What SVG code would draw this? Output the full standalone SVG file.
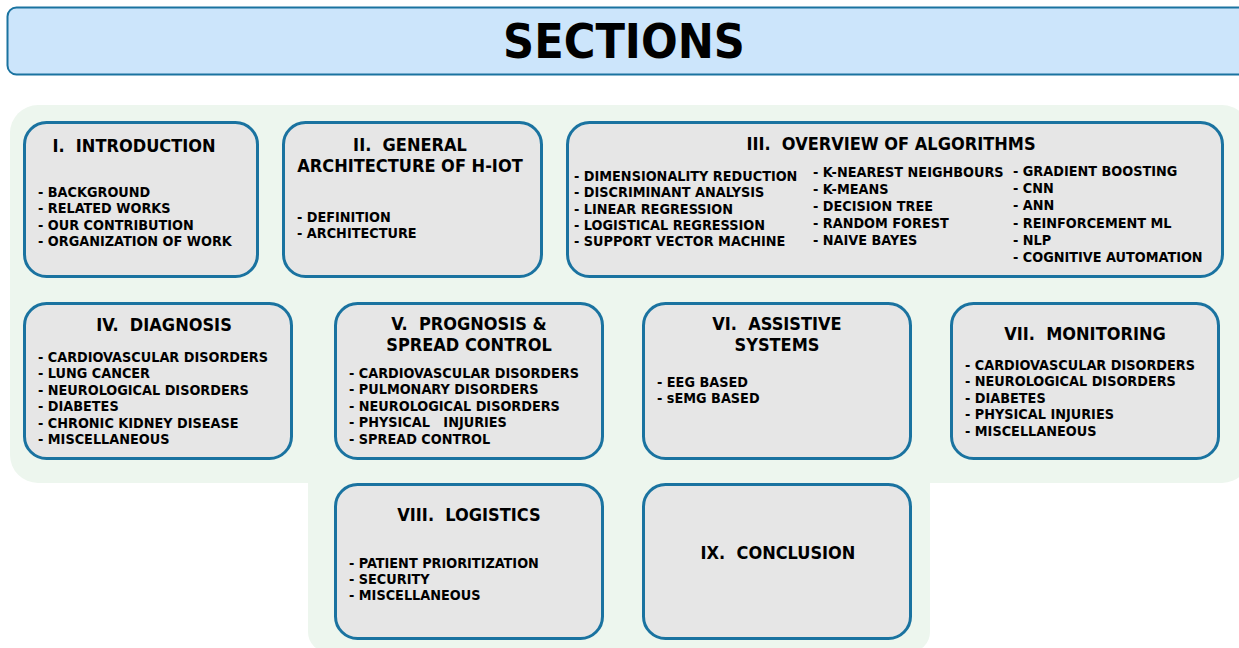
<svg xmlns="http://www.w3.org/2000/svg" width="1239" height="648" viewBox="0 0 1239 648">
<style>
.bg{fill:#edf6ee;stroke:none}
.box{fill:#e6e6e6;stroke:#1a73a0;stroke-width:3}
text{font-family:"DejaVu Sans Condensed","DejaVu Sans",sans-serif;font-weight:bold;fill:#000;white-space:pre}
.h{font-size:18px;text-anchor:middle}
.t{font-size:14.3px}
</style>
<rect x="0" y="0" width="1239" height="648" fill="#ffffff"/>
<g id="title">
<rect x="7.5" y="7.5" width="1245" height="67" rx="9" fill="#cce5fb" stroke="#1a73a0" stroke-width="2"/>
<text x="624" y="58" style="font-size:48px" text-anchor="middle">SECTIONS</text>
</g>
<g id="background">
<rect class="bg" x="10" y="105" width="1240" height="378" rx="28"/>
<rect class="bg" x="308" y="452" width="622" height="200" rx="20"/>
</g>
<g id="connectors"></g>
<g id="n1">
<rect class="box" x="24.5" y="122.5" width="233" height="154" rx="22"/>
<text class="h" x="134" y="152" xml:space="preserve">I.  INTRODUCTION</text>
<text class="t" x="38" y="197">- BACKGROUND</text>
<text class="t" x="38" y="213">- RELATED WORKS</text>
<text class="t" x="38" y="230">- OUR CONTRIBUTION</text>
<text class="t" x="38" y="246">- ORGANIZATION OF WORK</text>
</g>
<g id="n2">
<rect class="box" x="283.5" y="122.5" width="258" height="154" rx="22"/>
<text class="h" x="410" y="151" xml:space="preserve">II.  GENERAL</text>
<text class="h" x="410" y="172">ARCHITECTURE OF H-IOT</text>
<text class="t" x="297" y="222">- DEFINITION</text>
<text class="t" x="297" y="238">- ARCHITECTURE</text>
</g>
<g id="n3">
<rect class="box" x="567.5" y="122.5" width="655" height="154" rx="22"/>
<text class="h" x="891" y="150" xml:space="preserve">III.  OVERVIEW OF ALGORITHMS</text>
<text class="t" x="574" y="181">- DIMENSIONALITY REDUCTION</text>
<text class="t" x="574" y="197">- DISCRIMINANT ANALYSIS</text>
<text class="t" x="574" y="214">- LINEAR REGRESSION</text>
<text class="t" x="574" y="230">- LOGISTICAL REGRESSION</text>
<text class="t" x="574" y="246">- SUPPORT VECTOR MACHINE</text>
<text class="t" x="813" y="177">- K-NEAREST NEIGHBOURS</text>
<text class="t" x="813" y="194">- K-MEANS</text>
<text class="t" x="813" y="211">- DECISION TREE</text>
<text class="t" x="813" y="228">- RANDOM FOREST</text>
<text class="t" x="813" y="245">- NAIVE BAYES</text>
<text class="t" x="1013" y="176">- GRADIENT BOOSTING</text>
<text class="t" x="1013" y="193">- CNN</text>
<text class="t" x="1013" y="210">- ANN</text>
<text class="t" x="1013" y="228">- REINFORCEMENT ML</text>
<text class="t" x="1013" y="245">- NLP</text>
<text class="t" x="1013" y="262">- COGNITIVE AUTOMATION</text>
</g>
<g id="n4">
<rect class="box" x="24.5" y="303.5" width="267" height="155" rx="22"/>
<text class="h" x="164" y="331" xml:space="preserve">IV.  DIAGNOSIS</text>
<text class="t" x="38" y="362">- CARDIOVASCULAR DISORDERS</text>
<text class="t" x="38" y="378">- LUNG CANCER</text>
<text class="t" x="38" y="395">- NEUROLOGICAL DISORDERS</text>
<text class="t" x="38" y="411">- DIABETES</text>
<text class="t" x="38" y="428">- CHRONIC KIDNEY DISEASE</text>
<text class="t" x="38" y="444">- MISCELLANEOUS</text>
</g>
<g id="n5">
<rect class="box" x="335.5" y="303.5" width="267" height="155" rx="22"/>
<text class="h" x="469" y="330" xml:space="preserve">V.  PROGNOSIS &amp;</text>
<text class="h" x="469" y="351">SPREAD CONTROL</text>
<text class="t" x="349" y="378">- CARDIOVASCULAR DISORDERS</text>
<text class="t" x="349" y="394">- PULMONARY DISORDERS</text>
<text class="t" x="349" y="411">- NEUROLOGICAL DISORDERS</text>
<text class="t" x="349" y="427" xml:space="preserve">- PHYSICAL   INJURIES</text>
<text class="t" x="349" y="444">- SPREAD CONTROL</text>
</g>
<g id="n6">
<rect class="box" x="643.5" y="303.5" width="267" height="155" rx="22"/>
<text class="h" x="777" y="330" xml:space="preserve">VI.  ASSISTIVE</text>
<text class="h" x="777" y="351">SYSTEMS</text>
<text class="t" x="657" y="387">- EEG BASED</text>
<text class="t" x="657" y="403">- sEMG BASED</text>
</g>
<g id="n7">
<rect class="box" x="951.5" y="303.5" width="267" height="155" rx="22"/>
<text class="h" x="1085" y="340" xml:space="preserve">VII.  MONITORING</text>
<text class="t" x="965" y="370">- CARDIOVASCULAR DISORDERS</text>
<text class="t" x="965" y="386">- NEUROLOGICAL DISORDERS</text>
<text class="t" x="965" y="403">- DIABETES</text>
<text class="t" x="965" y="419">- PHYSICAL INJURIES</text>
<text class="t" x="965" y="436">- MISCELLANEOUS</text>
</g>
<g id="n8">
<rect class="box" x="335.5" y="484.5" width="267" height="154" rx="22"/>
<text class="h" x="469" y="521" xml:space="preserve">VIII.  LOGISTICS</text>
<text class="t" x="349" y="568">- PATIENT PRIORITIZATION</text>
<text class="t" x="349" y="584">- SECURITY</text>
<text class="t" x="349" y="600">- MISCELLANEOUS</text>
</g>
<g id="n9">
<rect class="box" x="643.5" y="484.5" width="267" height="154" rx="22"/>
<text class="h" x="778" y="559" xml:space="preserve">IX.  CONCLUSION</text>
</g>
</svg>
